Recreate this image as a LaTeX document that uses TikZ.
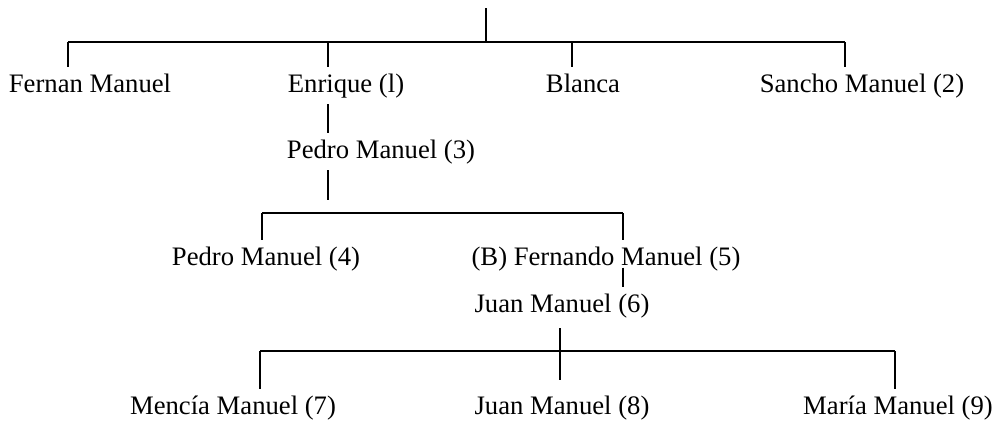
\documentclass[tikz,border=0pt]{standalone}
\usepackage{fontspec}
\setmainfont{Liberation Serif}
\usetikzlibrary{positioning}

\begin{document}
\begin{tikzpicture}[x=0.75pt,y=-0.75pt,line width=1pt,
                    person/.style={font=\fontsize{20}{24}\selectfont,inner sep=0pt,outer sep=5pt,anchor=base}]

  \useasboundingbox (0,0) rectangle (997,422);

  % people
  \node[person] (fernan)   at (90,92)   {Fernan Manuel};
  \node[person] (enrique)  at (346,92)  {Enrique (l)};
  \node[person] (blanca)   at (583,92)  {Blanca};
  \node[person] (sancho)   at (862,92)  {Sancho Manuel (2)};
  \node[person] (pedroA)   at (381,158) {Pedro Manuel (3)};
  \node[person] (pedroB)   at (266,265) {Pedro Manuel (4)};
  \node[person] (fernando) at (606,265) {(B) Fernando Manuel (5)};
  \node[person] (juanA)    at (562,312) {Juan Manuel (6)};
  \node[person] (mencia)   at (233,414) {Mencía Manuel (7)};
  \node[person] (juanB)    at (562,414) {Juan Manuel (8)};
  \node[person] (maria)    at (898,414) {María Manuel (9)};

  % bars
  \coordinate (root)       at (486,8);
  \coordinate (fernanUp)   at (68,42);
  \coordinate (enriqueUp)  at (328,42);
  \coordinate (blancaUp)   at (572,42);
  \coordinate (sanchoUp)   at (845,42);
  \coordinate (pedroDown)  at (328,200);
  \coordinate (pedroBUp)   at (262,213);
  \coordinate (fernandoUp) at (623,213);
  \coordinate (menciaUp)   at (260,351);
  \coordinate (juanDown)   at (560,380);
  \coordinate (mariaUp)    at (895,351);

  \draw (root) -- (root |- fernanUp);
  \draw (fernanUp) -- (sanchoUp);
  \draw (fernanUp) -- (fernanUp |- fernan.north);
  \draw (enriqueUp) -- (enriqueUp |- enrique.north);
  \draw (blancaUp) -- (blancaUp |- blanca.north);
  \draw (sanchoUp) -- (sanchoUp |- sancho.north);

  \draw (enrique.south -| enriqueUp) -- (pedroA.north -| enriqueUp);
  \draw (pedroA.south -| pedroDown) -- (pedroDown);

  \draw (pedroBUp) -- (fernandoUp);
  \draw (pedroBUp) -- (pedroBUp |- pedroB.north);
  \draw (fernandoUp) -- (fernandoUp |- fernando.north);
  \draw[shorten <=2pt] (fernando.base -| fernandoUp) -- (juanA.north -| fernandoUp);

  \draw[shorten <=3pt] (juanA.south -| juanDown) -- (juanDown);
  \draw (menciaUp) -- (mariaUp);
  \draw (menciaUp) -- (menciaUp |- mencia.north);
  \draw (mariaUp) -- (mariaUp |- maria.north);
\end{tikzpicture}
\end{document}
